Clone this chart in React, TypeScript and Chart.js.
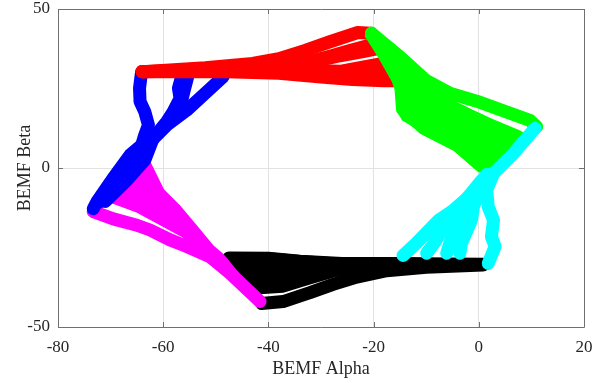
import React, { useEffect, useRef } from 'react';
import { Chart, registerables } from 'chart.js';

Chart.register(...registerables);

type Pt = [number, number];

// Axis setup
const xTicks = [-80, -60, -40, -20, 0, 20];
const yTicks = [-50, 0, 50];
const xLabel = 'BEMF Alpha';
const yLabel = 'BEMF Beta';

// Sector 1 (red): top edge, fanning from the upper-left vertex
const redTracks: Pt[][] = [
  [[-64, 30.3], [-52, 31.5], [-43, 32.9], [-38, 34.4], [-33, 37], [-28.3, 39.7], [-25, 41.5], [-23, 42.6], [-20.5, 42.4]],
  [[-64, 30.3], [-50, 31.2], [-40, 32], [-34, 32.7], [-28, 35.3], [-24, 37.2], [-21, 38.5], [-18.5, 38.8]],
  [[-40, 31.5], [-32, 33.2], [-26.4, 35.3], [-22, 36.6], [-18.5, 37.8]],
  [[-64, 30.3], [-45, 30.8], [-35, 30.8], [-30, 30.6], [-26.4, 30.4], [-18.5, 32.8], [-16, 32.4]],
  [[-40, 30.5], [-30, 30], [-24, 29.8], [-18, 30], [-15.5, 30]],
  [[-64, 30.3], [-48, 30.3], [-38, 29.8], [-30, 28.6], [-24, 27.8], [-18, 27.4], [-15.5, 27.4]],
];

// Sector 2 (green): upper-right edge
const greenPatch: Pt[] = [
  [-20.4, 42.4], [-15.5, 34], [-10.5, 26], [-6.4, 21.9], [1, 16.3], [7.2, 10.4], [8, 9],
  [1.5, -0.6], [0.3, -1], [-4.2, 5.7], [-9.9, 11.9], [-10.6, 11.4], [-14.4, 15.1],
  [-15.5, 18.2], [-15.5, 25.6], [-16.5, 27.7], [-19, 35], [-21.5, 41.5],
];
const greenTracks: Pt[][] = [
  [[-20.4, 42.4], [-15, 35], [-10, 27.5], [-5.5, 23.5], [-0.4, 21], [4.7, 18], [9.7, 15], [11, 13]],
  [[-20.4, 42.4], [-16, 31], [-14.8, 25], [-14.5, 18.5], [-13.5, 17], [-10.5, 12.5], [-4, 7], [0.5, 0.5]],
  [[-6, 20], [0, 15], [7.5, 9.8]],
];

// Sector 3 (cyan): lower-right edge
const cyanPatch: Pt[] = [
  [1.5, -1.5], [-7.6, -16.4], [-8.5, -19.5], [-3, -19.5], [-1.4, -16.4], [0.5, -6],
];
const cyanTracks: Pt[][] = [
  [[10.7, 12.5], [6.6, 4.6], [2.8, -1.7], [1.5, -6.9], [1.8, -12.2], [2.8, -16.4], [2.4, -21.6], [3.1, -24.7], [1.8, -30]],
  [[1.5, -2], [-1.5, -8.5], [-5, -13.5], [-7.6, -16.4], [-11.9, -23.7], [-14.4, -27.5]],
  [[0.5, -4], [-2.5, -10], [-5.5, -15.5], [-8.5, -23.7], [-9.9, -26.8]],
  [[0.5, -5], [-2, -11], [-4, -16], [-5.5, -23.7], [-6.1, -26.8]],
  [[0.5, -6], [-1, -12], [-1.4, -16.4], [-3.3, -23.7], [-3.6, -26.8]],
];

// Sector 4 (black): bottom edge
const blackPatch: Pt[] = [
  [-48, -26.8], [-40, -26.8], [-34, -27.7], [-26, -28.5], [-15, -28.4], [0.8, -29.2],
  [0.8, -31], [-15, -31.8], [-23.2, -32.4], [-27.7, -34.2], [-32.1, -36.3], [-37.2, -38.9],
  [-41.6, -39.4], [-46.5, -33],
];
const blackTracks: Pt[][] = [
  [[-47.5, -28.3], [-40, -28.4], [-34, -29.3], [-26, -30], [-15, -30], [-5, -30.2], [0.8, -30.3]],
  [[-41.3, -42.6], [-37.2, -42], [-32.1, -39.2], [-27.7, -36.6], [-23.2, -34.3], [-17.5, -32.3], [-10, -31.2], [0.8, -30.5]],
];

// Sector 5 (magenta): lower-left edge
const magentaPatch: Pt[] = [
  [-65, 2.5], [-62.5, 1.5], [-60, -6.9], [-56.8, -12.2], [-53.6, -18.5], [-50.5, -24.7],
  [-48.6, -27.4], [-41.6, -41.5], [-41.5, -43.5], [-47, -35], [-52, -28.5], [-56.3, -21.5],
  [-65, -13.7], [-70.3, -10.5], [-70, -8.5],
];
const magentaTracks: Pt[][] = [
  [[-73.3, -13.7], [-69.5, -16], [-65, -18], [-62.5, -19.5], [-58.7, -22.6], [-55.5, -24.7], [-51.1, -27.9], [-47.3, -33.1], [-41.6, -42]],
];

// Sector 6 (blue): upper-left edge
const blueTracks: Pt[][] = [
  [[-64.1, 30.3], [-64.5, 25.1], [-64.4, 20.9], [-63.5, 17.7], [-62.8, 13.5], [-63.5, 10.4], [-64.1, 7.2], [-66.3, 4.1], [-69.5, -3.2], [-72.6, -10.6], [-73.3, -12.8]],
  [[-56.5, 28.7], [-57.1, 25.1], [-56.8, 21.9], [-58.1, 17.7], [-59.3, 14.6], [-61.9, 9.3], [-63.5, 2.5], [-67, -4], [-71, -10.5]],
  [[-55.3, 29], [-56, 24.5], [-56.5, 21]],
  [[-48.6, 28.7], [-51.7, 24], [-55.5, 18.2], [-59.3, 13.5], [-63.1, 7.2], [-66.3, 0.9], [-69.5, -5.3], [-72, -10.6]],
];

const LINE_W = 13;
const FONT = "'Liberation Serif', 'Times New Roman', serif";
const TEXT = '#262626';
const AXIS = '#707070';
const GRID = '#e2e2e2';

const toXY = (pts: Pt[]) => pts.map(([x, y]) => ({ x, y }));

const track = (pts: Pt[], color: string) => ({
  data: toXY(pts),
  showLine: true,
  borderColor: color,
  backgroundColor: color,
  borderWidth: LINE_W,
  borderCapStyle: 'round',
  borderJoinStyle: 'round',
  pointRadius: 0,
  pointHoverRadius: 0,
  fill: false,
  tension: 0,
});

const patch = (pts: Pt[], color: string) => ({
  data: toXY([...pts, pts[0]]),
  showLine: true,
  borderColor: color,
  backgroundColor: color,
  borderWidth: 2,
  borderJoinStyle: 'round',
  pointRadius: 0,
  pointHoverRadius: 0,
  fill: 'shape',
  tension: 0,
});

// box outline with inward ticks on all four sides
const framePlugin = {
  id: 'frame',
  beforeDatasetsDraw(chart: any) {
    const { ctx, chartArea, scales } = chart;
    const { left, right, top, bottom } = chartArea;
    const len = 5;
    ctx.save();
    ctx.strokeStyle = AXIS;
    ctx.lineWidth = 1;
    ctx.beginPath();
    ctx.rect(Math.round(left) + 0.5, Math.round(top) + 0.5, Math.round(right - left), Math.round(bottom - top));
    for (const v of xTicks) {
      const px = Math.round(scales.x.getPixelForValue(v)) + 0.5;
      ctx.moveTo(px, bottom);
      ctx.lineTo(px, bottom - len);
      ctx.moveTo(px, top);
      ctx.lineTo(px, top + len);
    }
    for (const v of yTicks) {
      const py = Math.round(scales.y.getPixelForValue(v)) + 0.5;
      ctx.moveTo(left, py);
      ctx.lineTo(left + len, py);
      ctx.moveTo(right, py);
      ctx.lineTo(right - len, py);
    }
    ctx.stroke();
    ctx.restore();
  },
};

export default function App() {
  const ref = useRef<HTMLCanvasElement | null>(null);

  useEffect(() => {
    if (!ref.current) return;

    // drawn bottom to top
    const layers: any[] = [
      patch(blackPatch, '#000000'),
      ...blackTracks.map((t) => track(t, '#000000')),
      patch(magentaPatch, '#ff00ff'),
      ...magentaTracks.map((t) => track(t, '#ff00ff')),
      ...blueTracks.map((t) => track(t, '#0000ff')),
      ...redTracks.map((t) => track(t, '#ff0000')),
      patch(greenPatch, '#00ff00'),
      ...greenTracks.map((t) => track(t, '#00ff00')),
      patch(cyanPatch, '#00ffff'),
      ...cyanTracks.map((t) => track(t, '#00ffff')),
    ];
    const datasets = layers.map((d, i) => ({ ...d, order: layers.length - i }));

    const chart = new Chart(ref.current, {
      type: 'scatter',
      data: { datasets },
      plugins: [framePlugin],
      options: {
        animation: false,
        responsive: false,
        events: [],
        layout: { padding: { top: 9, right: 18, left: 0, bottom: 0 } },
        plugins: {
          legend: { display: false },
          tooltip: { enabled: false },
        },
        scales: {
          x: {
            type: 'linear',
            min: -80,
            max: 20,
            afterBuildTicks: (s: any) => {
              s.ticks = xTicks.map((value) => ({ value }));
            },
            afterFit: (s: any) => {
              s.height = 56;
              s.paddingLeft = 0;
              s.paddingRight = 0;
            },
            grid: { color: GRID, lineWidth: 1, drawTicks: false },
            border: { display: false },
            ticks: {
              padding: 10,
              color: TEXT,
              font: { family: FONT, size: 17 },
              maxRotation: 0,
            },
            title: {
              display: true,
              text: xLabel,
              color: TEXT,
              font: { family: FONT, size: 18 },
              padding: { top: 0, bottom: 3 },
            },
          },
          y: {
            type: 'linear',
            min: -50,
            max: 50,
            afterBuildTicks: (s: any) => {
              s.ticks = yTicks.map((value) => ({ value }));
            },
            afterFit: (s: any) => {
              s.width = 58;
              s.paddingTop = 0;
              s.paddingBottom = 0;
            },
            grid: { color: GRID, lineWidth: 1, drawTicks: false },
            border: { display: false },
            ticks: {
              padding: 8,
              color: TEXT,
              font: { family: FONT, size: 17 },
            },
            title: {
              display: true,
              text: yLabel,
              color: TEXT,
              font: { family: FONT, size: 18 },
              padding: { top: 14, bottom: 0 },
            },
          },
        },
      } as any,
    });

    return () => chart.destroy();
  }, []);

  return (
    <div style={{ position: 'fixed', left: 0, top: 0, width: 602, height: 383, background: '#ffffff' }}>
      <canvas ref={ref} width={602} height={383} />
    </div>
  );
}
